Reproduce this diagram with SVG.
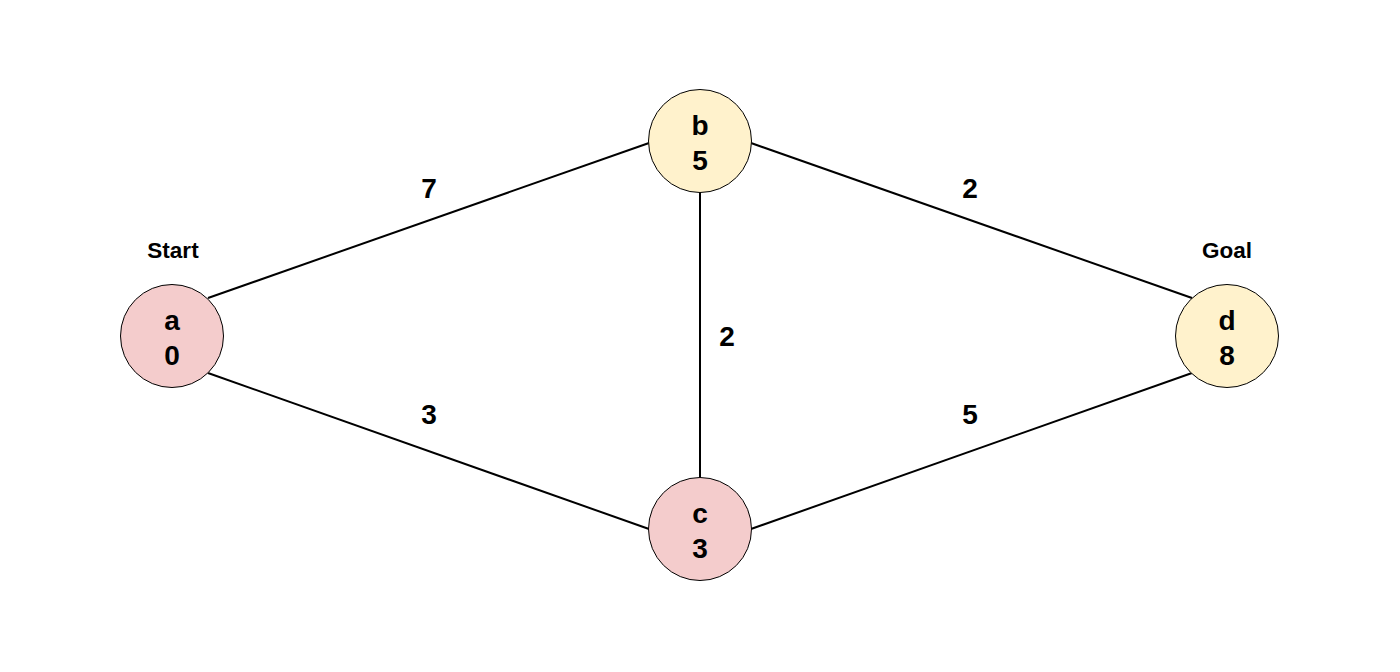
<svg xmlns="http://www.w3.org/2000/svg" width="1400" height="672" viewBox="0 0 1400 672">
<style>
.e{stroke:#000;stroke-width:2;fill:none}
.n{stroke:#000;stroke-width:1}
.pink{fill:#f4cccc}
.yel{fill:#fff2cc}
text{font-family:"Liberation Sans",Arial,sans-serif;font-weight:bold;fill:#000;text-anchor:middle}
.t{font-size:28px}
.l{font-size:28px}
.s{font-size:22.5px}
</style>
<rect width="1400" height="672" fill="#fff"/>
<g id="edges">
<line class="e" x1="208" y1="298" x2="649" y2="143"/>
<line class="e" x1="208" y1="373" x2="649" y2="529"/>
<line class="e" x1="700" y1="192" x2="700" y2="477"/>
<line class="e" x1="751" y1="143" x2="1192" y2="298"/>
<line class="e" x1="751" y1="529" x2="1192" y2="373"/>
<text class="l" x="429" y="198">7</text>
<text class="l" x="970" y="198">2</text>
<text class="l" x="727" y="346">2</text>
<text class="l" x="429" y="424">3</text>
<text class="l" x="970" y="424">5</text>
</g>
<g id="node-a">
<circle class="n pink" cx="172" cy="336" r="51.5"/>
<text class="t" x="172" y="330">a</text>
<text class="t" x="172" y="365">0</text>
<text class="s" x="173" y="258">Start</text>
</g>
<g id="node-b">
<circle class="n yel" cx="700" cy="141" r="51.5"/>
<text class="t" x="700" y="135">b</text>
<text class="t" x="700" y="170">5</text>
</g>
<g id="node-c">
<circle class="n pink" cx="700" cy="529" r="51.5"/>
<text class="t" x="700" y="523">c</text>
<text class="t" x="700" y="558">3</text>
</g>
<g id="node-d">
<circle class="n yel" cx="1227" cy="336" r="51.5"/>
<text class="t" x="1227" y="330">d</text>
<text class="t" x="1227" y="365">8</text>
<text class="s" x="1227" y="258">Goal</text>
</g>
</svg>
